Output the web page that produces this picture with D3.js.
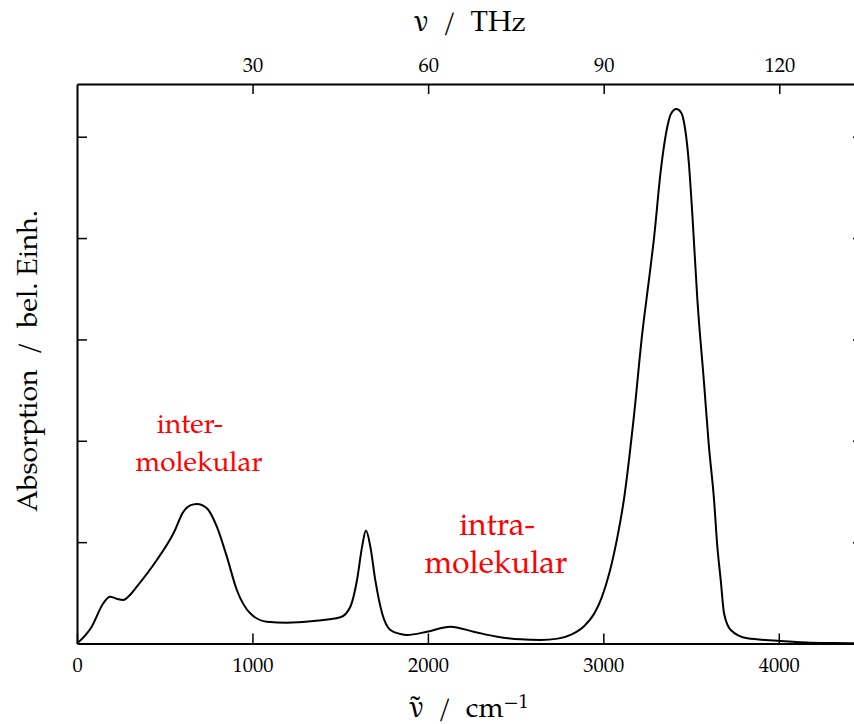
<!DOCTYPE html>
<html>
<head>
<meta charset="utf-8">
<script src="https://cdn.jsdelivr.net/npm/d3@7"></script>
<style>
  html, body { margin: 0; padding: 0; background: #fff; overflow: hidden; }
  svg { display: block; }
  text { font-family: "TeX Gyre Pagella", "Liberation Serif", serif; fill: #000; }
  .greek { font-family: "Noto Serif", "DejaVu Serif", serif; }
</style>
</head>
<body>
<svg id="chart" width="854" height="724"></svg>
<script>
// ---- data ----
const wavenumber = [0, 84, 150, 188, 222, 264, 302, 341, 455, 550, 607, 645, 683, 740, 797, 854, 911, 987,
  1082, 1197, 1348, 1501, 1558, 1596, 1625, 1647, 1672, 1700, 1739, 1786, 1843, 1881, 1995, 2128, 2261,
  2395, 2528, 2642, 2740, 2820, 2890, 2950, 2990, 3035, 3080, 3117, 3174, 3222, 3255, 3290, 3327, 3365,
  3384, 3416, 3444, 3460, 3486, 3508, 3536, 3574, 3601, 3631, 3649, 3669, 3688, 3726, 3821, 3993, 4183,
  4430, 4480];
const absorption = [0, 0.166, 0.397, 0.462, 0.444, 0.429, 0.479, 0.561, 0.824, 1.088, 1.301, 1.362, 1.377,
  1.335, 1.153, 0.857, 0.528, 0.298, 0.215, 0.205, 0.222, 0.259, 0.363, 0.627, 0.956, 1.114, 0.956, 0.627,
  0.298, 0.133, 0.094, 0.084, 0.116, 0.166, 0.116, 0.067, 0.041, 0.035, 0.048, 0.09, 0.17, 0.30, 0.45,
  0.70, 1.05, 1.417, 2.239, 3.062, 3.52, 4.02, 4.66, 5.10, 5.22, 5.273, 5.237, 5.14, 4.77, 4.213,
  3.391, 2.569, 1.96, 1.417, 0.972, 0.627, 0.298, 0.133, 0.051, 0.028, 0.008, 0.002, 0.0];
const bottomTicks = [0, 1000, 2000, 3000, 4000];
const topTicksTHz = [30, 60, 90, 120];
const yTicks = [1, 2, 3, 4, 5];
const thzPerWavenumber = 0.0299792458;
const xDomain = [0, 4480];
const yDomain = [0, 5.52];

// ---- layout ----
const svg = d3.select("#chart");
const mLeft = 77, mRight = 863, mTop = 84, mBottom = 643.5;
const serif = '"TeX Gyre Pagella", "Liberation Serif", serif';

const x = d3.scaleLinear().domain(xDomain).range([mLeft, mRight]);
const xTop = d3.scaleLinear().domain(xDomain.map(d => d * thzPerWavenumber)).range([mLeft, mRight]);
const y = d3.scaleLinear().domain(yDomain).range([mBottom, mTop]);

function styleAxis(g) {
  g.select(".domain").attr("stroke", "#000").attr("stroke-width", 2);
  g.selectAll(".tick line").attr("stroke", "#000").attr("stroke-width", 1.5);
  g.selectAll(".tick text").style("font-family", serif).style("font-size", "20.5px").style("fill", "#000");
}

svg.append("g").attr("transform", `translate(0,${mBottom})`)
  .call(d3.axisBottom(x).tickValues(bottomTicks).tickSizeInner(-10).tickSizeOuter(0).tickPadding(14).tickFormat(d3.format("d")))
  .call(styleAxis);
svg.append("g").attr("transform", `translate(0,${mTop})`)
  .call(d3.axisTop(xTop).tickValues(topTicksTHz).tickSizeInner(-10).tickSizeOuter(0).tickPadding(12).tickFormat(d3.format("d")))
  .call(styleAxis);
svg.append("g").attr("transform", `translate(${mLeft},0)`)
  .call(d3.axisLeft(y).tickValues(yTicks).tickSizeInner(-10).tickSizeOuter(0).tickFormat(""))
  .call(styleAxis);
svg.append("g").attr("transform", `translate(${mRight},0)`)
  .call(d3.axisRight(y).tickValues(yTicks).tickSizeInner(-10).tickSizeOuter(0).tickFormat(""))
  .call(styleAxis);

// ---- curve ----
const line = d3.line()
  .x((d, i) => x(wavenumber[i]))
  .y(d => y(d))
  .curve(d3.curveMonotoneX);
svg.append("path")
  .datum(absorption)
  .attr("fill", "none")
  .attr("stroke", "#000")
  .attr("stroke-width", 2)
  .attr("stroke-linejoin", "round")
  .attr("d", line);

// helper: scale a text's font size so that its natural width equals a target
function fitSize(str, target) {
  const t = svg.append("text").style("font-size", "100px").text(str);
  const w = t.node().getComputedTextLength();
  t.remove();
  return 100 * target / w;
}

// ---- axis titles ----
const titleSize = fitSize("Absorption\u2002/\u2002bel. Einh.", 302);
svg.append("text")
  .attr("transform", "translate(37,361) rotate(-90)")
  .attr("text-anchor", "middle").style("font-size", titleSize + "px")
  .text("Absorption\u2002/\u2002bel. Einh.");

const tt = svg.append("text").attr("x", 470).attr("y", 31).attr("text-anchor", "middle")
  .style("font-size", titleSize + "px");
tt.append("tspan").attr("class", "greek").style("font-size", (titleSize * 0.95) + "px").text("ν");
tt.append("tspan").text("\u2002/\u2002THz");

const bt = svg.append("text").attr("x", 469).attr("y", 717).attr("text-anchor", "middle")
  .style("font-size", titleSize + "px");
bt.append("tspan").attr("class", "greek").style("font-size", (titleSize * 0.95) + "px").text("ν\u0303");
bt.append("tspan").text("\u2002/\u2002cm");
bt.append("tspan").attr("dy", -9).style("font-size", (titleSize * 0.7) + "px").text("−1");

// ---- annotations ----
const red = "#ff0000";
const s1 = fitSize("molekular", 127);
const s2 = fitSize("molekular", 143);
svg.append("text").attr("x", 190).attr("y", 433).attr("text-anchor", "middle")
  .style("fill", red).style("font-size", s1 + "px").text("inter-");
svg.append("text").attr("x", 199).attr("y", 470.5).attr("text-anchor", "middle")
  .style("fill", red).style("font-size", s1 + "px").text("molekular");
svg.append("text").attr("x", 497).attr("y", 535).attr("text-anchor", "middle")
  .style("fill", red).style("font-size", s2 + "px").text("intra-");
svg.append("text").attr("x", 496).attr("y", 572.5).attr("text-anchor", "middle")
  .style("fill", red).style("font-size", s2 + "px").text("molekular");
</script>
</body>
</html>
